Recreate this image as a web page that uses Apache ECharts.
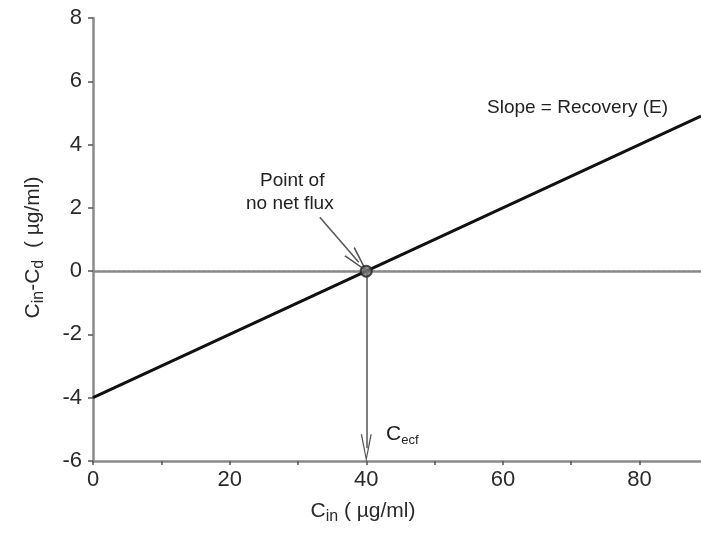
<!DOCTYPE html>
<html>
<head>
<meta charset="utf-8">
<script src="https://cdn.jsdelivr.net/npm/echarts@6/dist/echarts.min.js"></script>
<style>
  html, body { margin: 0; padding: 0; background: #fff; }
  #chart { width: 701px; height: 537px; }
</style>
</head>
<body>
<div id="chart"></div>
<script>
    // recovery line: Cin - Cd = E * (Cin - Cecf)
    var lineX = [0, 40, 89];
    var lineY = [-4, 0, 4.9];
    var zeroX = [0, 89];
    var zeroY = [0, 0];
    var fluxPoint = [40, 0];
    var cecfArrow = [[40, 0], [40, -5.6]];
    var noteArrow = [[33.2, 1.7], [38.9, 0.28]];
    var yTicks = [-6, -4, -2, 0, 2, 4, 6, 8];
    var xTicks = [0, 20, 40, 60, 80];

    var font = 'Liberation Sans, Arial, sans-serif';
    var axisGray = '#8a8a8a';
    var openArrow = 'path://M5,0 L10,14 L8.8,14 L5,3 L1.2,14 L0,14 Z';

    function pairs(xs, ys) {
        var out = [];
        for (var i = 0; i < xs.length; i++) {
            out.push([xs[i], ys[i]]);
        }
        return out;
    }

    var chart = echarts.init(document.getElementById('chart'));

    var option = {
        animation: false,
        backgroundColor: '#fff',
        textStyle: { fontFamily: font },
        grid: { left: 93, top: 18, right: 0, bottom: 76 },
        xAxis: [{
            type: 'value',
            min: 0,
            max: 89,
            interval: 10,
            splitLine: { show: false },
            axisLine: { onZero: false, lineStyle: { color: axisGray, width: 2.5 } },
            axisTick: { show: true, inside: false, length: 4, lineStyle: { color: '#555', width: 1.5 } },
            axisLabel: {
                color: '#2a2a2a', fontSize: 22, margin: 8, fontFamily: font,
                showMaxLabel: false,
                formatter: function (v) { return xTicks.indexOf(v) >= 0 ? String(v) : ''; }
            },
            name: '{b|C}{s|in}{b| ( µg/ml)}',
            nameLocation: 'middle',
            nameGap: 36,
            nameTextStyle: {
                padding: [0, 68, 0, 0],
                rich: {
                    b: { fontSize: 21, color: '#2a2a2a', fontFamily: font },
                    s: { fontSize: 16, color: '#2a2a2a', fontFamily: font, padding: [12, 0, 0, 0] }
                }
            }
        }, {
            type: 'value',
            position: 'top',
            min: 0,
            max: 89,
            splitLine: { show: false },
            axisLine: { show: true, lineStyle: { color: axisGray, width: 2.5 } },
            axisTick: { show: false },
            axisLabel: { show: false }
        }],
        yAxis: {
            type: 'value',
            min: yTicks[0],
            max: yTicks[yTicks.length - 1],
            interval: 2,
            splitLine: { show: false },
            axisLine: { onZero: false, lineStyle: { color: axisGray, width: 2.5 } },
            axisTick: { show: true, inside: false, length: 5, lineStyle: { color: '#555', width: 1.5 } },
            axisLabel: { color: '#2a2a2a', fontSize: 22, margin: 11, fontFamily: font },
            name: '{b|C}{s|in}{b|-C}{s|d}{b|  ( µg/ml)}',
            nameLocation: 'middle',
            nameGap: 46,
            nameRotate: 90,
            nameTextStyle: {
                padding: [0, 16, 0, 0],
                rich: {
                    b: { fontSize: 21, color: '#2a2a2a', fontFamily: font },
                    s: { fontSize: 16, color: '#2a2a2a', fontFamily: font, padding: [12, 0, 0, 0] }
                }
            }
        },
        series: [
            {
                name: 'zero',
                type: 'line',
                data: pairs(zeroX, zeroY),
                symbol: 'none',
                lineStyle: { color: '#888', width: 1.5, type: [2, 3] },
                z: 1
            },
            {
                name: 'recovery',
                type: 'line',
                data: pairs(lineX, lineY),
                symbol: 'none',
                lineStyle: { color: '#111', width: 3 },
                z: 3,
                markLine: {
                    silent: true,
                    symbol: ['none', openArrow],
                    symbolSize: [11, 28],
                    label: { show: false },
                    lineStyle: { color: '#555', width: 1.5, type: 'solid' },
                    data: [
                        [{ coord: cecfArrow[0] }, { coord: cecfArrow[1] }],
                        [{ coord: noteArrow[0] }, { coord: noteArrow[1], symbolSize: [14, 28] }]
                    ]
                }
            },
            {
                name: 'no net flux',
                type: 'scatter',
                data: [fluxPoint],
                symbol: 'circle',
                symbolSize: 11,
                itemStyle: { color: '#777', borderColor: '#222', borderWidth: 2 },
                z: 5
            }
        ],
        graphic: [
            {
                type: 'text', left: 487, top: 98,
                style: { text: 'Slope = Recovery (E)', fontSize: 19, fontFamily: font, fill: '#222' }
            },
            {
                type: 'text', left: 260, top: 171,
                style: { text: 'Point of', fontSize: 19, fontFamily: font, fill: '#222' }
            },
            {
                type: 'text', left: 246, top: 194,
                style: { text: 'no net flux', fontSize: 19, fontFamily: font, fill: '#222' }
            },
            {
                type: 'text', left: 386, top: 424,
                style: {
                    text: '{b|C}{s|ecf}',
                    rich: {
                        b: { fontSize: 21, fontFamily: font, fill: '#222' },
                        s: { fontSize: 13, fontFamily: font, fill: '#222', padding: [12, 0, 0, 0] }
                    }
                }
            }
        ]
    };

    chart.setOption(option);
</script>
</body>
</html>
